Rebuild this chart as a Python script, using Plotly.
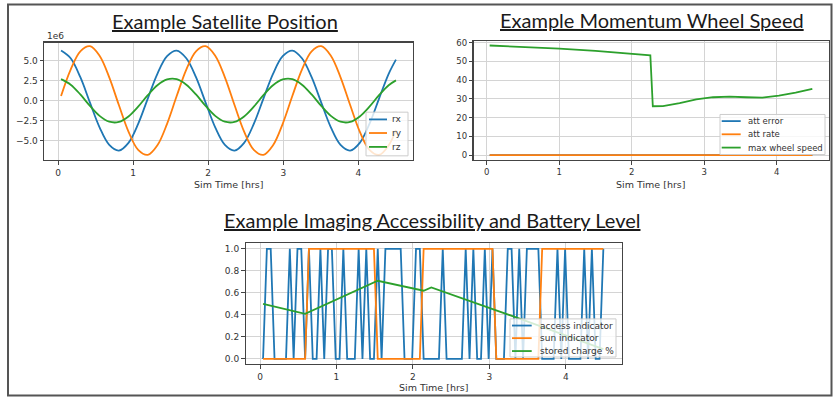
import plotly.graph_objects as go

# ---------------- data ----------------
# Satellite position (m) vs sim time (hrs)
t_pos = [0.04, 0.168, 0.297, 0.425, 0.553, 0.682, 0.81, 0.938, 1.067, 1.195, 1.323, 1.452,
         1.58, 1.708, 1.837, 1.965, 2.093, 2.222, 2.35, 2.478, 2.607, 2.735, 2.863, 2.992,
         3.12, 3.248, 3.377, 3.505, 3.633, 3.762, 3.89, 4.018, 4.147, 4.275, 4.403, 4.5]
rx = [6.24e6, 5.28e6, 2.91e6, -0.25e6, -3.34e6, -5.53e6, -6.24e6, -5.28e6, -2.91e6, 0.25e6, 3.34e6, 5.53e6,
      6.24e6, 5.28e6, 2.91e6, -0.25e6, -3.34e6, -5.53e6, -6.24e6, -5.28e6, -2.91e6, 0.25e6, 3.34e6, 5.53e6,
      6.24e6, 5.28e6, 2.91e6, -0.25e6, -3.34e6, -5.53e6, -6.24e6, -5.28e6, -2.91e6, 0.25e6, 3.34e6, 5.11e6]
ry = [0.56e6, 3.87e6, 6.15e6, 6.78e6, 5.59e6, 2.90e6, -0.56e6, -3.87e6, -6.15e6, -6.78e6, -5.59e6, -2.90e6,
      0.56e6, 3.87e6, 6.15e6, 6.78e6, 5.59e6, 2.90e6, -0.56e6, -3.87e6, -6.15e6, -6.78e6, -5.59e6, -2.90e6,
      0.56e6, 3.87e6, 6.15e6, 6.78e6, 5.59e6, 2.90e6, -0.56e6, -3.87e6, -6.15e6, -6.78e6, -5.59e6, -3.67e6]
rz = [2.67e6, 1.98e6, 0.76e6, -0.67e6, -1.91e6, -2.64e6, -2.67e6, -1.98e6, -0.76e6, 0.67e6, 1.91e6, 2.64e6,
      2.67e6, 1.98e6, 0.76e6, -0.67e6, -1.91e6, -2.64e6, -2.67e6, -1.98e6, -0.76e6, 0.67e6, 1.91e6, 2.64e6,
      2.67e6, 1.98e6, 0.76e6, -0.67e6, -1.91e6, -2.64e6, -2.67e6, -1.98e6, -0.76e6, 0.67e6, 1.91e6, 2.52e6]
pos_ticks = [-5e6, -2.5e6, 0, 2.5e6, 5e6]
pos_tick_text = ["\u22125.0", "\u22122.5", "0.0", "2.5", "5.0"]

# Momentum wheel speed
t_wheel = [0.04, 0.5, 1.0, 1.5, 2.0, 2.256, 2.29, 2.43, 2.66, 2.89, 3.12, 3.35, 3.58, 3.80, 4.03, 4.26, 4.49]
max_wheel_speed = [58.5, 57.8, 56.8, 55.6, 54.2, 53.3, 26.1, 26.2, 27.7, 29.8, 30.9, 31.2, 30.9, 30.7, 31.8, 33.3, 35.4]
t_att = [0.04, 1.0, 2.0, 3.0, 4.0, 4.49]
att_error = [0.0, 0.0, 0.0, 0.0, 0.0, 0.0]
att_rate = [0.0, 0.0, 0.0, 0.0, 0.0, 0.0]

# Imaging accessibility and battery level
t_acc = [0.04, 0.09, 0.14, 0.19, 0.24, 0.29, 0.34, 0.39, 0.44, 0.49,
         0.54, 0.59, 0.64, 0.69, 0.74, 0.79, 0.84, 0.89, 0.94, 0.99,
         1.04, 1.09, 1.14, 1.19, 1.24, 1.29, 1.34, 1.39, 1.44, 1.49,
         1.54, 1.59, 1.64, 1.69, 1.74, 1.79, 1.84, 1.89, 1.94, 1.99,
         2.04, 2.09, 2.14, 2.19, 2.24, 2.29, 2.34, 2.39, 2.44, 2.49,
         2.54, 2.59, 2.64, 2.69, 2.74, 2.79, 2.84, 2.89, 2.94, 2.99,
         3.04, 3.09, 3.14, 3.19, 3.24, 3.29, 3.34, 3.39, 3.44, 3.49,
         3.54, 3.59, 3.64, 3.69, 3.74, 3.79, 3.84, 3.89, 3.94, 3.99,
         4.04, 4.09, 4.14, 4.19, 4.24, 4.29, 4.34, 4.39, 4.44, 4.49]
access_indicator = [0, 1, 1, 0, 0, 0, 0, 1, 0, 1,
                    1, 0, 1, 0, 0, 1, 0, 1, 1, 0,
                    0, 1, 0, 0, 0, 1, 0, 1, 0, 0,
                    1, 0, 1, 1, 1, 1, 1, 0, 0, 0,
                    1, 1, 0, 0, 0, 0, 0, 1, 0, 0,
                    0, 0, 0, 1, 0, 1, 0, 0, 1, 0,
                    1, 0, 0, 0, 1, 1, 0, 1, 0, 1,
                    1, 1, 1, 0, 0, 0, 0, 1, 0, 1,
                    0, 0, 0, 0, 1, 0, 1, 0, 0, 1]
sun_indicator = [0, 0, 0, 0, 0, 0, 0, 0, 0, 0,
                 0, 0, 1, 1, 1, 1, 1, 1, 1, 1,
                 1, 1, 1, 1, 1, 1, 1, 1, 1, 1,
                 0, 0, 0, 0, 0, 0, 0, 0, 0, 0,
                 0, 0, 1, 1, 1, 1, 1, 1, 1, 1,
                 1, 1, 1, 1, 1, 1, 1, 1, 1, 1,
                 1, 0, 0, 0, 0, 0, 0, 0, 0, 0,
                 0, 0, 0, 1, 1, 1, 1, 1, 1, 1,
                 1, 1, 1, 1, 1, 1, 1, 1, 1, 1]
t_charge = [0.04, 0.59, 1.54, 2.14, 2.24, 3.34, 4.49]
stored_charge = [0.50, 0.41, 0.71, 0.62, 0.65, 0.38, 0.09]

# ---------------- style ----------------
W, H = 833, 398
BLUE, ORANGE, GREEN = "#1f77b4", "#ff7f0e", "#2ca02c"
TICK_FONT = dict(family="DejaVu Sans", size=9, color="#333333")
SMALL_FONT = dict(family="DejaVu Sans", size=8.5, color="#333333")
LW = 1.8


def px(x):
    return x / W


def py(y):
    return 1 - y / H


fig = go.Figure()

# plot 1
for y, c, name in [(rx, BLUE, "rx"), (ry, ORANGE, "ry"), (rz, GREEN, "rz")]:
    fig.add_trace(go.Scatter(x=t_pos, y=y, mode="lines", name=name,
                             line=dict(color=c, width=LW, shape="spline", smoothing=1.0),
                             xaxis="x", yaxis="y", showlegend=False))
# plot 2
for y, t, c, name in [(att_error, t_att, BLUE, "att error"), (att_rate, t_att, ORANGE, "att rate"),
                      (max_wheel_speed, t_wheel, GREEN, "max wheel speed")]:
    fig.add_trace(go.Scatter(x=t, y=y, mode="lines", name=name,
                             line=dict(color=c, width=LW),
                             xaxis="x2", yaxis="y2", showlegend=False))
# plot 3
for y, t, c, name in [(access_indicator, t_acc, BLUE, "access indicator"),
                      (sun_indicator, t_acc, ORANGE, "sun indicator"),
                      (stored_charge, t_charge, GREEN, "stored charge %")]:
    fig.add_trace(go.Scatter(x=t, y=y, mode="lines", name=name,
                             line=dict(color=c, width=LW),
                             xaxis="x3", yaxis="y3", showlegend=False))

axis_common = dict(showline=True, mirror=True, linecolor="#444444", linewidth=1.2,
                   ticks="outside", ticklen=3.5, tickwidth=1, tickcolor="#444444",
                   showgrid=True, gridcolor="#d4d4d4", gridwidth=1, zeroline=False,
                   fixedrange=True)

xt = dict(tickmode="array", tickvals=[0, 1, 2, 3, 4], ticktext=["0", "1", "2", "3", "4"])

fig.update_layout(
    width=W, height=H,
    margin=dict(l=0, r=0, t=0, b=0),
    paper_bgcolor="white", plot_bgcolor="white",
    showlegend=False,
    xaxis=dict(domain=[px(44.3), px(412.7)], range=[-0.183, 4.723], anchor="y", tickfont=TICK_FONT,
               **xt, **axis_common),
    yaxis=dict(domain=[py(158.3), py(40)], range=[-7.43e6, 7.22e6], anchor="x", tickfont=TICK_FONT,
               tickmode="array", tickvals=pos_ticks, ticktext=pos_tick_text, **axis_common),
    xaxis2=dict(domain=[px(473.5), px(829)], range=[-0.183, 4.72], anchor="y2", tickfont=SMALL_FONT,
                **xt, **axis_common),
    yaxis2=dict(domain=[py(158.3), py(38.3)], range=[-2.65, 60.9], anchor="x2", tickfont=SMALL_FONT,
                tickmode="array", tickvals=[0, 10, 20, 30, 40, 50, 60], **axis_common),
    xaxis3=dict(domain=[px(245.7), px(621.7)], range=[-0.187, 4.73], anchor="y3", tickfont=TICK_FONT,
                **xt, **axis_common),
    yaxis3=dict(domain=[py(364), py(242.3)], range=[-0.048, 1.049], anchor="x3", tickfont=TICK_FONT,
                tickmode="array", tickvals=[0, 0.2, 0.4, 0.6, 0.8, 1.0],
                ticktext=["0.0", "0.2", "0.4", "0.6", "0.8", "1.0"], **axis_common),
)

shapes = []
annotations = []

TITLE_FONT = dict(family="Lato", size=20, color="#1a1a1a")
for text, x, y in [("Example Satellite Position", 225.5, 18),
                   ("Example Momentum Wheel Speed", 652, 17),
                   ("Example Imaging Accessibility and Battery Level", 432, 219)]:
    annotations.append(dict(text="<u>" + text + "</u>", x=px(x), y=py(y), xref="paper", yref="paper",
                            xanchor="center", yanchor="middle", showarrow=False, font=TITLE_FONT))

LABEL_FONT = dict(family="DejaVu Sans", size=9.5, color="#333333")
for x, y in [(228.5, 183.3), (651, 182.7), (433.7, 387.3)]:
    annotations.append(dict(text="Sim Time [hrs]", x=px(x), y=py(y), xref="paper", yref="paper",
                            xanchor="center", yanchor="middle", showarrow=False, font=LABEL_FONT))

annotations.append(dict(text="1e6", x=px(45), y=py(33.3), xref="paper", yref="paper",
                        xanchor="left", yanchor="middle", showarrow=False, font=TICK_FONT))


def legend(box, line_x, text_x, rows, font):
    x0, y0, x1, y1 = box
    shapes.append(dict(type="rect", xref="paper", yref="paper", x0=px(x0), x1=px(x1), y0=py(y0), y1=py(y1),
                       line=dict(color="#cccccc", width=1), fillcolor="rgba(255,255,255,0.8)", layer="above"))
    for color, label, yy in rows:
        shapes.append(dict(type="line", xref="paper", yref="paper", x0=px(line_x[0]), x1=px(line_x[1]),
                           y0=py(yy), y1=py(yy), line=dict(color=color, width=LW), layer="above"))
        annotations.append(dict(text=label, x=px(text_x), y=py(yy), xref="paper", yref="paper",
                                xanchor="left", yanchor="middle", showarrow=False, font=font))


legend((366, 110, 408, 154), (369, 387), 389.5,
       [(BLUE, "rx", 117.3), (ORANGE, "ry", 131), (GREEN, "rz", 145)], TICK_FONT)
legend((720, 112.3, 825, 152.7), (721.7, 740.7), 745.5,
       [(BLUE, "att error", 119), (ORANGE, "att rate", 132.3), (GREEN, "max wheel speed", 145.7)], SMALL_FONT)
legend((510, 318.3, 616, 356.7), (512, 531.7), 537.5,
       [(BLUE, "access indicator", 325), (ORANGE, "sun indicator", 337.7), (GREEN, "stored charge %", 350.7)],
       TICK_FONT)

# outer frame
shapes.append(dict(type="rect", xref="paper", yref="paper", x0=px(8), x1=px(831.5), y0=py(395.5), y1=py(1.5),
                   line=dict(color="#555555", width=2), fillcolor="rgba(0,0,0,0)", layer="above"))

fig.update_layout(shapes=shapes, annotations=annotations)
fig.write_html(
    "out.html",
    config={"displayModeBar": False, "staticPlot": True},
    post_script=("document.body.style.margin='0px';document.body.style.overflow='hidden';"
                 "var gd=document.getElementById('{plot_id}');gd.style.position='fixed';"
                 "gd.style.left='0px';gd.style.top='0px';"),
)
